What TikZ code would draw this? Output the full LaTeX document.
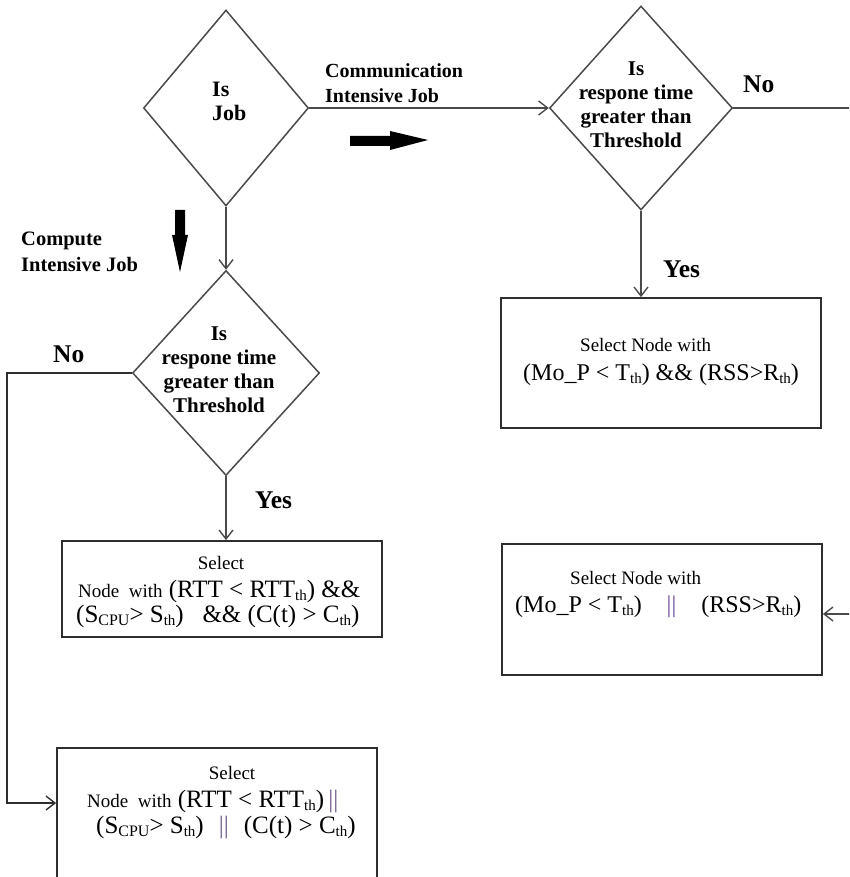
\documentclass[tikz,border=0pt]{standalone}
\usepackage{fontspec}
\setmainfont{Liberation Serif}
\usetikzlibrary{shapes.geometric,arrows.meta}
\definecolor{ln}{HTML}{4A4A4A}
\definecolor{bx}{HTML}{2E2E2E}
\definecolor{pur}{HTML}{6A4C93}
\newcommand\thsub{\raisebox{-3.5pt}{\fontsize{15}{15}\selectfont th}}
\newcommand\cpusub{\raisebox{-3.5pt}{\fontsize{16}{16}\selectfont CPU}}
\newcommand\fsz[2]{\fontsize{#1}{#2}\selectfont}
\begin{document}
\begin{tikzpicture}[x=1pt,y=-1pt,
  dia/.style={draw=ln, line width=1.5pt, shape=diamond, inner sep=0pt},
  boxn/.style={draw=bx, line width=1.8pt, rectangle, inner sep=0pt},
  conn/.style={draw=ln, line width=1.6pt, -{Straight Barb[length=9pt,width=14pt,line width=1.4pt]}},
  dtext/.style={font=\bfseries\fsz{21}{24}, inner sep=0pt, align=center},
  lbl/.style={font=\bfseries\fsz{20}{25.5}, inner sep=0pt, align=left, anchor=west},
  yn/.style={font=\bfseries\fsz{25.5}{28}, inner sep=0pt, anchor=base west},
  btext/.style={inner sep=0pt, anchor=base west},
]
\useasboundingbox (0,0) rectangle (849,877);
\clip (0,0) rectangle (849,877);

% decision diamonds
\node[dia, minimum width=165pt, minimum height=196pt] (d1) at (226,108) {};
\node[dia, minimum width=187pt, minimum height=205pt] (d2) at (226,373) {};
\node[dia, minimum width=183pt, minimum height=204pt] (d3) at (641,108) {};

\node[dtext, font=\bfseries\fsz{22}{24}, align=left, anchor=west] (d1t) at (212,101) {Is\\Job};
\node[dtext] (d2t) at (219,370) {Is\\respone time\\greater than\\Threshold};
\node[dtext] (d3t) at (636,105) {Is\\respone time\\greater than\\Threshold};

% boxes
\node[boxn, minimum width=320pt, minimum height=96pt] (b1) at (222,589) {};
\node[boxn, minimum width=320pt, minimum height=160pt] (b3) at (217,828) {};
\node[boxn, minimum width=320pt, minimum height=130pt] (b2) at (661,363) {};
\node[boxn, minimum width=320pt, minimum height=131pt] (b4) at (662,609.5) {};

% box texts
\node[btext, anchor=base] (b1a) at (221,569) {\fsz{19}{22}Select};
\node[btext] (b1b) at (76,597) {\fsz{25}{25}\begin{tabular}[t]{@{}l@{}}
  \hspace*{2pt}{\fsz{19}{22}Node\ \ with} (RTT < RTT\thsub) \&\&\\
  (S\cpusub> S\thsub)\ \ \ \&\& (C(t) > C\thsub)
\end{tabular}};

\node[btext, anchor=base] (b3a) at (232,779) {\fsz{19}{22}Select};
\node[btext] (b3b) at (87,807) {\fsz{25}{26}\begin{tabular}[t]{@{}l@{}}
  {\fsz{19}{22}Node\ \ with} (RTT < RTT\thsub)\,{\color{pur!70!gray}||}\\
  \hspace*{9pt}(S\cpusub> S\thsub)\hspace{15pt}{\color{pur!70!gray}||}\hspace{15pt}(C(t) > C\thsub)
\end{tabular}};

\node[btext] (b2a) at (580,351) {\fsz{19}{22}Select Node with};
\node[btext] (b2b) at (523,380) {\fsz{24}{26}(Mo\_P < T\thsub) \&\& (RSS>R\thsub)};

\node[btext] (b4a) at (570,584) {\fsz{19}{22}Select Node with};
\node[btext] (b4b) at (515,612) {\fsz{24}{26}(Mo\_P < T\thsub)\hspace{25pt}{\color{pur}||}\hspace{25pt}(RSS>R\thsub)};

% labels
\node[lbl] (lc1) at (325,83) {Communication\\Intensive Job};
\node[lbl, font=\bfseries\fsz{20.5}{26}] (lc2) at (21,252) {Compute\\Intensive Job};
\node[yn] (no2) at (53,362) {No};
\node[yn] (no3) at (743,93) {No};
\node[yn] (yes2) at (255,508) {Yes};
\node[yn] (yes3) at (663,277) {Yes};

% connectors
\coordinate (lc) at (7,373);
\coordinate (rc1) at (862,108);
\draw[conn] (d1.east) -- (d3.west);
\draw[conn] (d1.south) -- (d2.north);
\draw[conn] (d2.south) -- (d2.south |- b1.north);
\draw[conn] (d3.south) -- (d3.south |- b2.north);
\draw[conn, draw=bx] (d2.west) -- (lc) |- ([yshift=25pt]b3.west);
\draw[conn] (d3.east) -- (rc1) |- ([yshift=-4.5pt]b4.east);

% big black direction arrows
\fill[black] (350,136) -- (390,136) -- (390,131) -- (428,140) -- (390,150) -- (390,146) -- (350,146) -- cycle;
\fill[black] (175,210) -- (185,210) -- (185,235) -- (188,235) -- (180,272) -- (172,235) -- (175,235) -- cycle;
\end{tikzpicture}
\end{document}
